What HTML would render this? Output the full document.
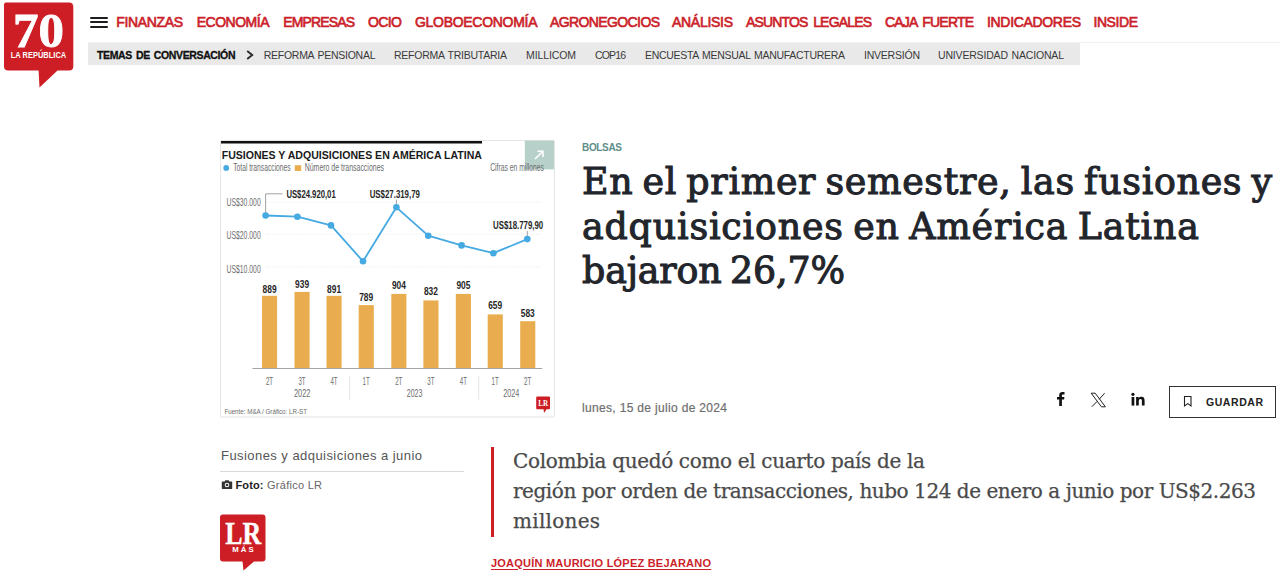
<!DOCTYPE html>
<html lang="es"><head><meta charset="utf-8"><title>La República</title>
<style>
html,body{margin:0;padding:0;background:#fff;}
body{width:1280px;height:578px;position:relative;overflow:hidden;font-family:"Liberation Sans", "DejaVu Sans", sans-serif;}
.t{position:absolute;white-space:nowrap;display:block;}
/* baseline anchor: zero-height inline-block strut so 'top' == baseline */
.t i{display:inline-block;width:0;height:0;}
.abs{position:absolute;}
#n0{left:116.3px;top:14.80px;font:400 14px/1 "Liberation Sans", "DejaVu Sans", sans-serif;color:#cc1f2a;letter-spacing:-0.362px;-webkit-text-stroke:0.65px #cc1f2a;word-spacing:2.5px;}
#n1{left:196.7px;top:14.80px;font:400 14px/1 "Liberation Sans", "DejaVu Sans", sans-serif;color:#cc1f2a;letter-spacing:-0.491px;-webkit-text-stroke:0.65px #cc1f2a;word-spacing:2.5px;}
#n2{left:283.2px;top:14.80px;font:400 14px/1 "Liberation Sans", "DejaVu Sans", sans-serif;color:#cc1f2a;letter-spacing:-0.859px;-webkit-text-stroke:0.65px #cc1f2a;word-spacing:2.5px;}
#n3{left:368px;top:14.80px;font:400 14px/1 "Liberation Sans", "DejaVu Sans", sans-serif;color:#cc1f2a;letter-spacing:-0.594px;-webkit-text-stroke:0.65px #cc1f2a;word-spacing:2.5px;}
#n4{left:415px;top:14.80px;font:400 14px/1 "Liberation Sans", "DejaVu Sans", sans-serif;color:#cc1f2a;letter-spacing:-0.294px;-webkit-text-stroke:0.65px #cc1f2a;word-spacing:2.5px;}
#n5{left:550px;top:14.80px;font:400 14px/1 "Liberation Sans", "DejaVu Sans", sans-serif;color:#cc1f2a;letter-spacing:-0.608px;-webkit-text-stroke:0.65px #cc1f2a;word-spacing:2.5px;}
#n6{left:672px;top:14.80px;font:400 14px/1 "Liberation Sans", "DejaVu Sans", sans-serif;color:#cc1f2a;letter-spacing:-0.290px;-webkit-text-stroke:0.65px #cc1f2a;word-spacing:2.5px;}
#n7{left:746px;top:14.80px;font:400 14px/1 "Liberation Sans", "DejaVu Sans", sans-serif;color:#cc1f2a;letter-spacing:-0.831px;-webkit-text-stroke:0.65px #cc1f2a;word-spacing:2.5px;}
#n8{left:885px;top:14.80px;font:400 14px/1 "Liberation Sans", "DejaVu Sans", sans-serif;color:#cc1f2a;letter-spacing:-0.816px;-webkit-text-stroke:0.65px #cc1f2a;word-spacing:2.5px;}
#n9{left:987px;top:14.80px;font:400 14px/1 "Liberation Sans", "DejaVu Sans", sans-serif;color:#cc1f2a;letter-spacing:-0.323px;-webkit-text-stroke:0.65px #cc1f2a;word-spacing:2.5px;}
#n10{left:1093.5px;top:14.80px;font:400 14px/1 "Liberation Sans", "DejaVu Sans", sans-serif;color:#cc1f2a;letter-spacing:-0.438px;-webkit-text-stroke:0.65px #cc1f2a;word-spacing:2.5px;}
#tc{left:97px;top:49.80px;font:700 10.5px/1 "Liberation Sans", "DejaVu Sans", sans-serif;color:#111;letter-spacing:-0.372px;-webkit-text-stroke:0.3px #111;word-spacing:1.5px;}
#s0{left:263.7px;top:49.80px;font:400 10.5px/1 "Liberation Sans", "DejaVu Sans", sans-serif;color:#3a3a3a;letter-spacing:-0.260px;word-spacing:1px;}
#s1{left:394px;top:49.80px;font:400 10.5px/1 "Liberation Sans", "DejaVu Sans", sans-serif;color:#3a3a3a;letter-spacing:-0.253px;word-spacing:1px;}
#s2{left:526px;top:49.80px;font:400 10.5px/1 "Liberation Sans", "DejaVu Sans", sans-serif;color:#3a3a3a;letter-spacing:-0.109px;word-spacing:1px;}
#s3{left:595px;top:49.80px;font:400 10.5px/1 "Liberation Sans", "DejaVu Sans", sans-serif;color:#3a3a3a;letter-spacing:-0.859px;word-spacing:1px;}
#s4{left:645px;top:49.80px;font:400 10.5px/1 "Liberation Sans", "DejaVu Sans", sans-serif;color:#3a3a3a;letter-spacing:-0.294px;word-spacing:1px;}
#s5{left:864px;top:49.80px;font:400 10.5px/1 "Liberation Sans", "DejaVu Sans", sans-serif;color:#3a3a3a;letter-spacing:-0.221px;word-spacing:1px;}
#s6{left:938px;top:49.80px;font:400 10.5px/1 "Liberation Sans", "DejaVu Sans", sans-serif;color:#3a3a3a;letter-spacing:-0.177px;word-spacing:1px;}
#bol{left:582px;top:142.70px;font:700 10px/1 "Liberation Sans", "DejaVu Sans", sans-serif;color:#5f8f8a;letter-spacing:-0.334px;}
#h1{left:582px;top:164.20px;font:400 36.4px/1 "DejaVu Serif", "Liberation Serif", serif;color:#22252b;letter-spacing:0.674px;-webkit-text-stroke:1.05px #22252b;word-spacing:-3px;}
#h2{left:582px;top:208.50px;font:400 36.4px/1 "DejaVu Serif", "Liberation Serif", serif;color:#22252b;letter-spacing:0.812px;-webkit-text-stroke:1.05px #22252b;word-spacing:-3px;}
#h3{left:582px;top:253.20px;font:400 36.4px/1 "DejaVu Serif", "Liberation Serif", serif;color:#22252b;letter-spacing:-0.158px;-webkit-text-stroke:1.05px #22252b;word-spacing:-3px;}
#date{left:582px;top:402.30px;font:400 12px/1 "Liberation Sans", "DejaVu Sans", sans-serif;color:#6e6e6e;letter-spacing:0.329px;-webkit-text-stroke:0.2px #6e6e6e;}
#gu{left:1206px;top:397.00px;font:700 10.5px/1 "Liberation Sans", "DejaVu Sans", sans-serif;color:#222;letter-spacing:0.555px;}
#cap{left:221px;top:449.00px;font:400 13px/1 "Liberation Sans", "DejaVu Sans", sans-serif;color:#555;letter-spacing:0.446px;}
#foto{left:235.5px;top:480.00px;font:700 11px/1 "Liberation Sans", "DejaVu Sans", sans-serif;color:#222;letter-spacing:0.129px;}
#glr{left:267px;top:480.00px;font:400 11px/1 "Liberation Sans", "DejaVu Sans", sans-serif;color:#666;letter-spacing:0.269px;}
#l1{left:513px;top:451.00px;font:400 20px/1 "DejaVu Serif", "Liberation Serif", serif;color:#4a4a4a;letter-spacing:-0.339px;-webkit-text-stroke:0.25px #4a4a4a;}
#l2{left:513px;top:481.00px;font:400 20px/1 "DejaVu Serif", "Liberation Serif", serif;color:#4a4a4a;letter-spacing:-0.452px;-webkit-text-stroke:0.25px #4a4a4a;}
#l3{left:513px;top:511.00px;font:400 20px/1 "DejaVu Serif", "Liberation Serif", serif;color:#4a4a4a;letter-spacing:0.259px;-webkit-text-stroke:0.25px #4a4a4a;}
#au{left:491px;top:557.50px;font:700 11px/1 "Liberation Sans", "DejaVu Sans", sans-serif;color:#cc1f2a;letter-spacing:0.223px;text-decoration:underline;text-underline-offset:2px;}
</style></head><body>
<!-- header divider + topic bar -->
<div class="abs" style="left:88px;top:42px;width:1192px;height:1px;background:#f1f1f1"></div>
<div class="abs" style="left:87.5px;top:43px;width:992.5px;height:22px;background:#e9e9e9"></div>
<!-- 70 La República logo -->
<svg class="abs" style="left:0;top:0" width="80" height="92" viewBox="0 0 80 92">
  <path d="M6 2.5 H69 Q73.3 2.5 73.3 6.8 V66.2 Q73.3 70.5 69 70.5 H57.5 L39.5 87.5 L38.6 70.5 H8.3 Q4 70.5 4 66.2 V4.5 Q4 2.5 6 2.5 Z" fill="#cc1e24"/>
  <text x="38.6" y="47" text-anchor="middle" font-family="'Liberation Serif','DejaVu Serif',serif" font-weight="700" font-size="47.5" fill="#fff" textLength="51" lengthAdjust="spacingAndGlyphs" stroke="#fff" stroke-width="0.8">70</text>
  <text x="38.5" y="57.6" text-anchor="middle" font-family="'Liberation Sans',sans-serif" font-weight="700" font-size="9" fill="#fff" textLength="55.5" lengthAdjust="spacingAndGlyphs">LA REPÚBLICA</text>
</svg>
<!-- hamburger -->
<div class="abs" style="left:90px;top:16.5px;width:17.5px;height:2px;background:#1d1d1f;border-radius:1px"></div>
<div class="abs" style="left:90px;top:21px;width:17.5px;height:2px;background:#1d1d1f;border-radius:1px"></div>
<div class="abs" style="left:90px;top:25.5px;width:17.5px;height:2px;background:#1d1d1f;border-radius:1px"></div>
<!-- chevron -->
<svg class="abs" style="left:245px;top:49px" width="10" height="12" viewBox="0 0 10 12"><path d="M2.2 2 L7.2 6 L2.2 10" fill="none" stroke="#2a2a2a" stroke-width="1.9"/></svg>
<!-- social icons -->
<svg class="abs" style="left:1054px;top:390px" width="14" height="18" viewBox="0 0 14 18">
  <path d="M5.2 16 V9.6 H3 V7.1 H5.2 V5.3 C5.2 3.1 6.5 2 8.5 2 C9.4 2 10.2 2.07 10.5 2.1 V4.4 H9.1 C8.1 4.4 7.9 4.9 7.9 5.6 V7.1 H10.4 L10.1 9.6 H7.9 V16 Z" fill="#111"/>
</svg>
<svg class="abs" style="left:1090px;top:391.6px" width="17" height="16" viewBox="0 0 17 16">
  <path d="M1.2 1.2 H5.2 L15.4 14.8 H11.4 Z" fill="none" stroke="#222" stroke-width="1"/>
  <path d="M14.6 1.2 L9.2 7.3 M7.2 9.3 L1.8 14.8" fill="none" stroke="#222" stroke-width="1"/>
</svg>
<svg class="abs" style="left:1130px;top:391px" width="16" height="16" viewBox="0 0 16 16">
  <rect x="1.6" y="6" width="2.7" height="8.6" fill="#111"/><circle cx="2.95" cy="3.3" r="1.6" fill="#111"/>
  <path d="M6.1 6 H8.7 V7.2 C9.2 6.3 10.2 5.8 11.4 5.8 C13.9 5.8 14.6 7.4 14.6 9.7 V14.6 H11.9 V10.2 C11.9 9.1 11.8 8.1 10.6 8.1 C9.3 8.1 8.8 9 8.8 10.1 V14.6 H6.1 Z" fill="#111"/>
</svg>
<!-- guardar button -->
<div class="abs" style="left:1169px;top:386px;width:105px;height:30px;border:1px solid #333;box-sizing:content-box"></div>
<svg class="abs" style="left:1182px;top:395px" width="12" height="13" viewBox="0 0 12 13"><path d="M2.5 1.5 H9 V11 L5.75 8.6 L2.5 11 Z" fill="none" stroke="#222" stroke-width="1.1"/></svg>
<!-- caption rule -->
<div class="abs" style="left:220px;top:470.5px;width:244px;height:1px;background:#d9d9d9"></div>
<!-- camera icon -->
<svg class="abs" style="left:220.5px;top:479px" width="12" height="11" viewBox="0 0 12 11">
  <path d="M1.5 2.4 H3.6 L4.4 1.2 H7.6 L8.4 2.4 H10.5 Q11.2 2.4 11.2 3.1 V9.3 Q11.2 10 10.5 10 H1.5 Q0.8 10 0.8 9.3 V3.1 Q0.8 2.4 1.5 2.4 Z" fill="#333"/>
  <circle cx="6" cy="6" r="2.3" fill="#fff"/><circle cx="6" cy="6" r="1.3" fill="#333"/>
</svg>
<!-- LR MÁS logo -->
<svg class="abs" style="left:218px;top:512px" width="52" height="62" viewBox="0 0 52 62">
  <path d="M5 2.5 H44.5 Q47.5 2.5 47.5 5.5 V46.5 Q47.5 49.5 44.5 49.5 H36 L25.5 58.5 L24.5 49.5 H5 Q2 49.5 2 46.5 V5.5 Q2 2.5 5 2.5 Z" fill="#cc1e24"/>
  <text x="25.3" y="32" text-anchor="middle" font-family="'Liberation Serif','DejaVu Serif',serif" font-weight="700" font-size="32" fill="#fff" textLength="36" lengthAdjust="spacingAndGlyphs" stroke="#fff" stroke-width="0.4">LR</text>
  <text x="25" y="39.8" text-anchor="middle" font-family="'Liberation Sans',sans-serif" font-weight="700" font-size="7.8" fill="#fff" textLength="21.5" lengthAdjust="spacing">MÁS</text>
</svg>
<!-- lead red bar -->
<div class="abs" style="left:491px;top:447px;width:3px;height:90px;background:#cc1e24"></div>

<svg class="abs" style="left:0;top:0" width="1280" height="578" viewBox="0 0 1280 578">
<rect x="220.5" y="140.5" width="334" height="276.5" rx="1.5" fill="#fff" stroke="#e4e4e4" stroke-width="1"/>
<rect x="221" y="141" width="261" height="2.5" fill="#111"/>
<rect x="524.8" y="140.6" width="29.2" height="28.8" fill="#b7d0c9"/>
<path d="M535 159 L542.6 151.6 M537.4 151.3 H543 V156.9" fill="none" stroke="#fff" stroke-width="1.5"/>
<text x="221.7" y="158.8" font-family="'Liberation Sans','DejaVu Sans Condensed',sans-serif" font-size="11.2" font-weight="700" fill="#1a1a1a" textLength="260.3" lengthAdjust="spacingAndGlyphs">FUSIONES Y ADQUISICIONES EN AMÉRICA LATINA</text>
<circle cx="226.2" cy="167.9" r="2.9" fill="#45a9e2"/>
<text x="233.2" y="171.3" font-family="'Liberation Sans','DejaVu Sans Condensed',sans-serif" font-size="10.5" font-weight="400" fill="#6c6c6c" textLength="57.5" lengthAdjust="spacingAndGlyphs">Total transacciones</text>
<rect x="294.8" y="165.2" width="6.4" height="5.8" fill="#e9ad4f"/>
<text x="304.7" y="171.3" font-family="'Liberation Sans','DejaVu Sans Condensed',sans-serif" font-size="10.5" font-weight="400" fill="#6c6c6c" textLength="79.3" lengthAdjust="spacingAndGlyphs">Número de transacciones</text>
<text x="490.2" y="171.0" font-family="'Liberation Sans','DejaVu Sans Condensed',sans-serif" font-size="10.5" font-weight="400" fill="#6c6c6c" textLength="53.8" lengthAdjust="spacingAndGlyphs">Cifras en millones</text>
<text x="226.5" y="206.3" font-family="'Liberation Sans','DejaVu Sans Condensed',sans-serif" font-size="10.5" font-weight="400" fill="#6e6e6e" textLength="34.2" lengthAdjust="spacingAndGlyphs">US$30.000</text>
<line x1="266" y1="202" x2="541.5" y2="202" stroke="#ebebeb" stroke-width="0.8" stroke-dasharray="1.5 1.5"/>
<text x="226.5" y="239.4" font-family="'Liberation Sans','DejaVu Sans Condensed',sans-serif" font-size="10.5" font-weight="400" fill="#6e6e6e" textLength="34.2" lengthAdjust="spacingAndGlyphs">US$20.000</text>
<line x1="266" y1="234.3" x2="541.5" y2="234.3" stroke="#ebebeb" stroke-width="0.8" stroke-dasharray="1.5 1.5"/>
<text x="226.5" y="272.6" font-family="'Liberation Sans','DejaVu Sans Condensed',sans-serif" font-size="10.5" font-weight="400" fill="#6e6e6e" textLength="34.2" lengthAdjust="spacingAndGlyphs">US$10.000</text>
<line x1="266" y1="266.8" x2="541.5" y2="266.8" stroke="#ebebeb" stroke-width="0.8" stroke-dasharray="1.5 1.5"/>
<path d="M265.6 213 V193.8 H282.4" fill="none" stroke="#8a8a8a" stroke-width="0.8"/>
<path d="M396.4 199.5 V205 M527.3 231 V236.5" fill="none" stroke="#8a8a8a" stroke-width="0.8"/>
<polyline points="265.6,215.5 297.4,216.7 331,225.4 363,261.3 396.4,207.3 428.2,235.7 461.6,245.4 493.4,253.2 527.3,239.1" fill="none" stroke="#45a9e2" stroke-width="1.8" stroke-linejoin="round"/>
<circle cx="265.6" cy="215.5" r="3.3" fill="#45a9e2"/>
<circle cx="297.4" cy="216.7" r="3.3" fill="#45a9e2"/>
<circle cx="331" cy="225.4" r="3.3" fill="#45a9e2"/>
<circle cx="363" cy="261.3" r="3.3" fill="#45a9e2"/>
<circle cx="396.4" cy="207.3" r="3.3" fill="#45a9e2"/>
<circle cx="428.2" cy="235.7" r="3.3" fill="#45a9e2"/>
<circle cx="461.6" cy="245.4" r="3.3" fill="#45a9e2"/>
<circle cx="493.4" cy="253.2" r="3.3" fill="#45a9e2"/>
<circle cx="527.3" cy="239.1" r="3.3" fill="#45a9e2"/>
<text x="286.4" y="198.2" font-family="'Liberation Sans','DejaVu Sans Condensed',sans-serif" font-size="10.5" font-weight="700" fill="#262626" textLength="49.3" lengthAdjust="spacingAndGlyphs">US$24.920,01</text>
<text x="369.7" y="197.6" font-family="'Liberation Sans','DejaVu Sans Condensed',sans-serif" font-size="10.5" font-weight="700" fill="#262626" textLength="50.2" lengthAdjust="spacingAndGlyphs">US$27.319,79</text>
<text x="493.0" y="229.0" font-family="'Liberation Sans','DejaVu Sans Condensed',sans-serif" font-size="10.5" font-weight="700" fill="#262626" textLength="50.2" lengthAdjust="spacingAndGlyphs">US$18.779,90</text>
<rect x="262" y="295.8" width="15.1" height="72.6" fill="#e9ad4f"/>
<text x="262.6" y="292.6" font-family="'Liberation Sans','DejaVu Sans Condensed',sans-serif" font-size="10.5" font-weight="700" fill="#262626" textLength="14.0" lengthAdjust="spacingAndGlyphs">889</text>
<text x="265.9" y="385.0" font-family="'Liberation Sans','DejaVu Sans Condensed',sans-serif" font-size="10.5" font-weight="400" fill="#6c6c6c" textLength="7.2" lengthAdjust="spacingAndGlyphs">2T</text>
<rect x="294.5" y="291.9" width="15.1" height="76.5" fill="#e9ad4f"/>
<text x="295.1" y="288.0" font-family="'Liberation Sans','DejaVu Sans Condensed',sans-serif" font-size="10.5" font-weight="700" fill="#262626" textLength="14.0" lengthAdjust="spacingAndGlyphs">939</text>
<text x="298.4" y="385.0" font-family="'Liberation Sans','DejaVu Sans Condensed',sans-serif" font-size="10.5" font-weight="400" fill="#6c6c6c" textLength="7.2" lengthAdjust="spacingAndGlyphs">3T</text>
<rect x="326.5" y="295.8" width="15.1" height="72.6" fill="#e9ad4f"/>
<text x="327.1" y="292.6" font-family="'Liberation Sans','DejaVu Sans Condensed',sans-serif" font-size="10.5" font-weight="700" fill="#262626" textLength="14.0" lengthAdjust="spacingAndGlyphs">891</text>
<text x="330.4" y="385.0" font-family="'Liberation Sans','DejaVu Sans Condensed',sans-serif" font-size="10.5" font-weight="400" fill="#6c6c6c" textLength="7.2" lengthAdjust="spacingAndGlyphs">4T</text>
<rect x="358.7" y="305.1" width="15.1" height="63.3" fill="#e9ad4f"/>
<text x="359.2" y="301.0" font-family="'Liberation Sans','DejaVu Sans Condensed',sans-serif" font-size="10.5" font-weight="700" fill="#262626" textLength="14.0" lengthAdjust="spacingAndGlyphs">789</text>
<text x="362.6" y="385.0" font-family="'Liberation Sans','DejaVu Sans Condensed',sans-serif" font-size="10.5" font-weight="400" fill="#6c6c6c" textLength="7.2" lengthAdjust="spacingAndGlyphs">1T</text>
<rect x="391.3" y="293.9" width="15.1" height="74.5" fill="#e9ad4f"/>
<text x="391.9" y="289.3" font-family="'Liberation Sans','DejaVu Sans Condensed',sans-serif" font-size="10.5" font-weight="700" fill="#262626" textLength="14.0" lengthAdjust="spacingAndGlyphs">904</text>
<text x="395.2" y="385.0" font-family="'Liberation Sans','DejaVu Sans Condensed',sans-serif" font-size="10.5" font-weight="400" fill="#6c6c6c" textLength="7.2" lengthAdjust="spacingAndGlyphs">2T</text>
<rect x="423.4" y="300.4" width="15.1" height="68.0" fill="#e9ad4f"/>
<text x="423.9" y="294.5" font-family="'Liberation Sans','DejaVu Sans Condensed',sans-serif" font-size="10.5" font-weight="700" fill="#262626" textLength="14.0" lengthAdjust="spacingAndGlyphs">832</text>
<text x="427.3" y="385.0" font-family="'Liberation Sans','DejaVu Sans Condensed',sans-serif" font-size="10.5" font-weight="400" fill="#6c6c6c" textLength="7.2" lengthAdjust="spacingAndGlyphs">3T</text>
<rect x="455.8" y="293.9" width="15.1" height="74.5" fill="#e9ad4f"/>
<text x="456.4" y="289.3" font-family="'Liberation Sans','DejaVu Sans Condensed',sans-serif" font-size="10.5" font-weight="700" fill="#262626" textLength="14.0" lengthAdjust="spacingAndGlyphs">905</text>
<text x="459.8" y="385.0" font-family="'Liberation Sans','DejaVu Sans Condensed',sans-serif" font-size="10.5" font-weight="400" fill="#6c6c6c" textLength="7.2" lengthAdjust="spacingAndGlyphs">4T</text>
<rect x="487.7" y="314.4" width="15.1" height="54.0" fill="#e9ad4f"/>
<text x="488.2" y="309.2" font-family="'Liberation Sans','DejaVu Sans Condensed',sans-serif" font-size="10.5" font-weight="700" fill="#262626" textLength="14.0" lengthAdjust="spacingAndGlyphs">659</text>
<text x="491.6" y="385.0" font-family="'Liberation Sans','DejaVu Sans Condensed',sans-serif" font-size="10.5" font-weight="400" fill="#6c6c6c" textLength="7.2" lengthAdjust="spacingAndGlyphs">1T</text>
<rect x="520.2" y="321.2" width="15.1" height="47.2" fill="#e9ad4f"/>
<text x="520.8" y="317.3" font-family="'Liberation Sans','DejaVu Sans Condensed',sans-serif" font-size="10.5" font-weight="700" fill="#262626" textLength="14.0" lengthAdjust="spacingAndGlyphs">583</text>
<text x="524.1" y="385.0" font-family="'Liberation Sans','DejaVu Sans Condensed',sans-serif" font-size="10.5" font-weight="400" fill="#6c6c6c" textLength="7.2" lengthAdjust="spacingAndGlyphs">2T</text>
<line x1="252.4" y1="368.5" x2="542.2" y2="368.5" stroke="#a6a6a6" stroke-width="1"/>
<text x="294.0" y="397.0" font-family="'Liberation Sans','DejaVu Sans Condensed',sans-serif" font-size="10.5" font-weight="400" fill="#6c6c6c" textLength="16.5" lengthAdjust="spacingAndGlyphs">2022</text>
<text x="406.8" y="396.8" font-family="'Liberation Sans','DejaVu Sans Condensed',sans-serif" font-size="10.5" font-weight="400" fill="#6c6c6c" textLength="15.6" lengthAdjust="spacingAndGlyphs">2023</text>
<text x="503.3" y="396.8" font-family="'Liberation Sans','DejaVu Sans Condensed',sans-serif" font-size="10.5" font-weight="400" fill="#6c6c6c" textLength="16.1" lengthAdjust="spacingAndGlyphs">2024</text>
<path d="M349.7 376.2 V399.6 M478.7 376.2 V399.6" stroke="#dadada" stroke-width="0.8" fill="none"/>
<text x="224.4" y="413.7" font-family="'Liberation Sans','DejaVu Sans Condensed',sans-serif" font-size="6.6" font-weight="400" fill="#6c6c6c" textLength="82.6" lengthAdjust="spacingAndGlyphs">Fuente: M&amp;A / Gráfico: LR-ST</text>
<path d="M537.2 396.4 H549 Q550 396.4 550 397.4 V408.3 Q550 409.3 549 409.3 H546.6 L544 413 L543.6 409.3 H537.2 Q536.2 409.3 536.2 408.3 V397.4 Q536.2 396.4 537.2 396.4 Z" fill="#cc1e24"/>
<text x="538.3" y="406.4" font-family="'Liberation Serif',serif" font-weight="700" font-size="8.6" fill="#fff" textLength="9.8" lengthAdjust="spacingAndGlyphs">LR</text>
</svg>
<span class="t" id="n0">FINANZAS</span>
<span class="t" id="n1">ECONOMÍA</span>
<span class="t" id="n2">EMPRESAS</span>
<span class="t" id="n3">OCIO</span>
<span class="t" id="n4">GLOBOECONOMÍA</span>
<span class="t" id="n5">AGRONEGOCIOS</span>
<span class="t" id="n6">ANÁLISIS</span>
<span class="t" id="n7">ASUNTOS LEGALES</span>
<span class="t" id="n8">CAJA FUERTE</span>
<span class="t" id="n9">INDICADORES</span>
<span class="t" id="n10">INSIDE</span>
<span class="t" id="tc">TEMAS DE CONVERSACIÓN</span>
<span class="t" id="s0">REFORMA PENSIONAL</span>
<span class="t" id="s1">REFORMA TRIBUTARIA</span>
<span class="t" id="s2">MILLICOM</span>
<span class="t" id="s3">COP16</span>
<span class="t" id="s4">ENCUESTA MENSUAL MANUFACTURERA</span>
<span class="t" id="s5">INVERSIÓN</span>
<span class="t" id="s6">UNIVERSIDAD NACIONAL</span>
<span class="t" id="bol">BOLSAS</span>
<span class="t" id="h1">En el primer semestre, las fusiones y</span>
<span class="t" id="h2">adquisiciones en América Latina</span>
<span class="t" id="h3">bajaron 26,7%</span>
<span class="t" id="date">lunes, 15 de julio de 2024</span>
<span class="t" id="gu">GUARDAR</span>
<span class="t" id="cap">Fusiones y adquisiciones a junio</span>
<span class="t" id="foto">Foto:</span>
<span class="t" id="glr">Gráfico LR</span>
<span class="t" id="l1">Colombia quedó como el cuarto país de la</span>
<span class="t" id="l2">región por orden de transacciones, hubo 124 de enero a junio por US$2.263</span>
<span class="t" id="l3">millones</span>
<span class="t" id="au">JOAQUÍN MAURICIO LÓPEZ BEJARANO</span>
</body></html>
